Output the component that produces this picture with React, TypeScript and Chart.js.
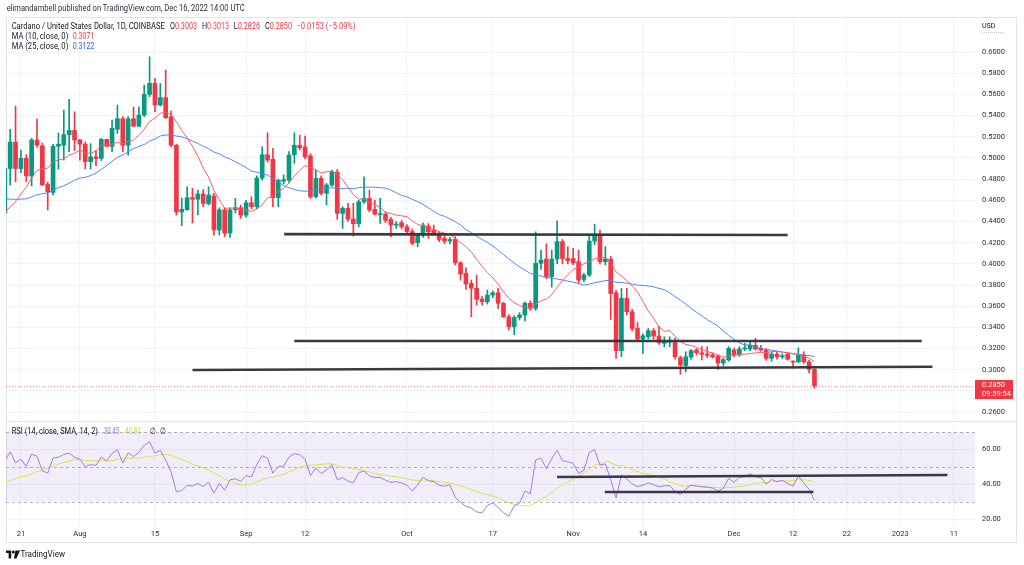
import React, { useEffect, useRef } from "react";
import { Chart, registerables } from "chart.js";

Chart.register(...registerables);

const FONT = 'Roboto, "Noto Sans", Arial, sans-serif';

// Daily candles, day index 0 = 2022-07-18 ... 151 = 2022-12-16
const opens = [
  0.448, 0.490, 0.515, 0.490, 0.4996, 0.483, 0.517, 0.5115, 0.475, 0.4675,
  0.511, 0.512, 0.522, 0.526, 0.517, 0.513, 0.4965, 0.501, 0.4996, 0.5175,
  0.511, 0.527, 0.537, 0.512, 0.537, 0.530, 0.5405, 0.560, 0.5705, 0.550,
  0.557, 0.539, 0.512, 0.449, 0.451, 0.4625, 0.461, 0.466, 0.457, 0.464,
  0.432, 0.451, 0.429, 0.451, 0.453, 0.446, 0.4577, 0.454, 0.481, 0.503,
  0.4987, 0.4625, 0.478, 0.479, 0.503, 0.512, 0.5105, 0.502, 0.4634, 0.4807,
  0.4666, 0.4744, 0.4865, 0.4477, 0.4524, 0.4423, 0.438, 0.4586, 0.4618, 0.4515,
  0.4465, 0.447, 0.442, 0.4365, 0.4388, 0.435, 0.4305, 0.420, 0.427, 0.4356,
  0.432, 0.429, 0.424, 0.4215, 0.423, 0.401, 0.391, 0.3815, 0.377, 0.3667,
  0.3643, 0.3705, 0.3727, 0.3627, 0.350, 0.3406, 0.3494, 0.3517, 0.3627, 0.358,
  0.4005, 0.4045, 0.388, 0.4045, 0.421, 0.405, 0.405, 0.402, 0.3853, 0.3894,
  0.4215, 0.427, 0.402, 0.4045, 0.3727, 0.318, 0.3674, 0.3548, 0.339, 0.329,
  0.3312, 0.3368, 0.3318, 0.325, 0.326, 0.3274, 0.3113, 0.304, 0.312, 0.3186,
  0.316, 0.3148, 0.3139, 0.3127, 0.3064, 0.3092, 0.3186, 0.314, 0.3196, 0.3196,
  0.323, 0.3202, 0.3186, 0.3108, 0.3148, 0.3123, 0.3145, 0.3078, 0.3075, 0.314,
  0.3075, 0.3003,
];
const highs = [
  0.492, 0.527, 0.549, 0.5075, 0.503, 0.5185, 0.5367, 0.514, 0.477, 0.5128,
  0.5235, 0.5452, 0.5553, 0.5436, 0.5175, 0.515, 0.5135, 0.507, 0.5185, 0.5178,
  0.5358, 0.550, 0.539, 0.539, 0.548, 0.548, 0.5688, 0.5956, 0.5752, 0.5704,
  0.583, 0.5443, 0.513, 0.4621, 0.4728, 0.4713, 0.4697, 0.4702, 0.4728, 0.4665,
  0.453, 0.453, 0.453, 0.4618, 0.4555, 0.460, 0.4634, 0.483, 0.5106, 0.5238,
  0.509, 0.480, 0.484, 0.5059, 0.5238, 0.5216, 0.5207, 0.504, 0.4886, 0.483,
  0.476, 0.4886, 0.489, 0.454, 0.4571, 0.4571, 0.460, 0.4822, 0.4697, 0.4602,
  0.4618, 0.449, 0.444, 0.440, 0.441, 0.437, 0.433, 0.429, 0.4388, 0.438,
  0.4366, 0.430, 0.426, 0.425, 0.4256, 0.402, 0.3962, 0.3847, 0.3894, 0.369,
  0.3752, 0.3745, 0.3768, 0.364, 0.352, 0.351, 0.354, 0.3642, 0.365, 0.4303,
  0.413, 0.419, 0.413, 0.4407, 0.423, 0.4162, 0.4146, 0.413, 0.391, 0.4272,
  0.4375, 0.432, 0.4162, 0.407, 0.375, 0.3768, 0.3768, 0.357, 0.3447, 0.334,
  0.339, 0.339, 0.3412, 0.3312, 0.3312, 0.330, 0.313, 0.317, 0.319, 0.320,
  0.3218, 0.3218, 0.316, 0.314, 0.311, 0.3218, 0.3205, 0.3218, 0.3249, 0.3265,
  0.3296, 0.323, 0.320, 0.317, 0.317, 0.315, 0.316, 0.3085, 0.3207, 0.317,
  0.309, 0.3013,
];
const lows = [
  0.445, 0.4744, 0.4775, 0.486, 0.4775, 0.4735, 0.510, 0.474, 0.4508, 0.465,
  0.4895, 0.498, 0.5059, 0.507, 0.498, 0.4895, 0.4895, 0.4925, 0.4975, 0.5106,
  0.506, 0.5232, 0.506, 0.5027, 0.5295, 0.5295, 0.539, 0.5578, 0.5436, 0.549,
  0.5373, 0.5106, 0.4461, 0.436, 0.4508, 0.4385, 0.4461, 0.4539, 0.4555, 0.427,
  0.4272, 0.4256, 0.425, 0.448, 0.443, 0.444, 0.452, 0.452, 0.479, 0.496,
  0.4539, 0.4539, 0.4755, 0.477, 0.4949, 0.5075, 0.499, 0.4618, 0.462, 0.465,
  0.4555, 0.473, 0.442, 0.4335, 0.440, 0.4262, 0.435, 0.457, 0.449, 0.446,
  0.4382, 0.439, 0.4256, 0.4335, 0.433, 0.429, 0.418, 0.4162, 0.425, 0.424,
  0.427, 0.421, 0.419, 0.419, 0.399, 0.3847, 0.3759, 0.350, 0.361, 0.361,
  0.362, 0.368, 0.358, 0.3494, 0.3375, 0.333, 0.347, 0.346, 0.356, 0.356,
  0.3947, 0.386, 0.378, 0.400, 0.400, 0.400, 0.399, 0.3815, 0.383, 0.388,
  0.418, 0.400, 0.399, 0.3475, 0.3107, 0.3124, 0.352, 0.337, 0.327, 0.3155,
  0.329, 0.329, 0.324, 0.3215, 0.3218, 0.310, 0.2957, 0.2978, 0.310, 0.314,
  0.3092, 0.3115, 0.311, 0.3004, 0.304, 0.308, 0.312, 0.3125, 0.318, 0.318,
  0.3185, 0.3175, 0.309, 0.308, 0.310, 0.3105, 0.309, 0.3015, 0.3065, 0.306,
  0.297, 0.2826,
];
const closes = [
  0.490, 0.515, 0.490, 0.4996, 0.483, 0.517, 0.512, 0.4745, 0.468, 0.511,
  0.513, 0.522, 0.526, 0.517, 0.513, 0.4965, 0.501, 0.4995, 0.5175, 0.511,
  0.528, 0.537, 0.512, 0.537, 0.530, 0.5405, 0.560, 0.5705, 0.550, 0.557,
  0.538, 0.512, 0.449, 0.4515, 0.4625, 0.461, 0.466, 0.457, 0.465, 0.432,
  0.451, 0.429, 0.451, 0.453, 0.446, 0.4577, 0.454, 0.481, 0.503, 0.498,
  0.4625, 0.479, 0.4795, 0.5027, 0.512, 0.5096, 0.501, 0.4634, 0.4807, 0.4666,
  0.4744, 0.487, 0.4477, 0.4524, 0.4423, 0.438, 0.4586, 0.4618, 0.4508, 0.447,
  0.447, 0.441, 0.4366, 0.4375, 0.435, 0.4305, 0.4195, 0.427, 0.4366, 0.4303,
  0.429, 0.4231, 0.4215, 0.423, 0.401, 0.3905, 0.381, 0.377, 0.3665, 0.3643,
  0.3705, 0.3727, 0.3627, 0.350, 0.3406, 0.3494, 0.3517, 0.3627, 0.358, 0.4005,
  0.4036, 0.388, 0.4045, 0.421, 0.405, 0.403, 0.401, 0.3847, 0.3894, 0.4215,
  0.427, 0.402, 0.4045, 0.372, 0.318, 0.3674, 0.3548, 0.339, 0.329, 0.3321,
  0.3368, 0.3318, 0.3255, 0.3274, 0.3277, 0.3123, 0.3044, 0.3123, 0.318, 0.3161,
  0.3146, 0.3136, 0.3123, 0.3064, 0.3095, 0.3202, 0.314, 0.3196, 0.3202, 0.3233,
  0.3196, 0.3186, 0.3108, 0.3148, 0.3123, 0.3133, 0.310, 0.3072, 0.3145, 0.3075,
  0.3003, 0.2850,
];
// closes before the first visible candle (2022-06-08 .. 2022-07-17), used to seed the indicators
const warmupCloses = [
  0.60, 0.61, 0.58, 0.55, 0.50, 0.45, 0.48, 0.51, 0.46, 0.48,
  0.46, 0.49, 0.49, 0.50, 0.47, 0.49, 0.50, 0.50, 0.49, 0.48,
  0.47, 0.46, 0.45, 0.45, 0.45, 0.45, 0.48, 0.46, 0.45, 0.46,
  0.48, 0.46, 0.44, 0.43, 0.42, 0.43, 0.44, 0.46, 0.46, 0.455,
];

const xTickDays = [3, 14, 28, 45, 56, 75, 91, 106, 119, 136, 147, 157, 167, 177];
const xTickLabels = ["21", "Aug", "15", "Sep", "12", "Oct", "17", "Nov", "14", "Dec", "12", "22", "2023", "11"];
const priceTicks = [0.26, 0.28, 0.30, 0.32, 0.34, 0.36, 0.38, 0.40, 0.42, 0.44, 0.46, 0.48, 0.50, 0.52, 0.54, 0.56, 0.58, 0.60];
const rsiTicks = [20, 40, 60];
const rsiLevels = [70, 50, 30];

// user-drawn horizontal lines (day index, price)
const priceLines = [
  { d1: 52.1, p1: 0.4281, d2: 146.0, p2: 0.4272 },
  { d1: 54.0, p1: 0.3271, d2: 171.0, p2: 0.3271 },
  { d1: 35.0, p1: 0.2997, d2: 173.0, p2: 0.3028 },
];
const rsiLines = [
  { d1: 103.0, v1: 44.2, d2: 175.8, v2: 45.3 },
  { d1: 111.9, v1: 35.6, d2: 150.8, v2: 35.6 },
];

const X_MIN = 0.22;
const X_MAX = 180.94;
const UP = "#089981";
const DOWN = "#f23645";

function smaOf(all: (number | null)[], n: number, k: number): number | null {
  if (k - n + 1 < 0) return null;
  let s = 0;
  for (let j = k - n + 1; j <= k; j++) {
    const v = all[j];
    if (v == null) return null;
    s += v;
  }
  return s / n;
}

function rsiOf(vals: number[], n: number): (number | null)[] {
  const out: (number | null)[] = vals.map(() => null);
  let ag = 0;
  let al = 0;
  for (let k = 1; k < vals.length; k++) {
    const ch = vals[k] - vals[k - 1];
    const g = Math.max(ch, 0);
    const l = Math.max(-ch, 0);
    if (k <= n) {
      ag += g / n;
      al += l / n;
      if (k === n) out[k] = al === 0 ? 100 : 100 - 100 / (1 + ag / al);
    } else {
      ag = (ag * (n - 1) + g) / n;
      al = (al * (n - 1) + l) / n;
      out[k] = al === 0 ? 100 : 100 - 100 / (1 + ag / al);
    }
  }
  return out;
}

// SVG text with a fixed rendered width
function Tx(props: { x: number; y: number; w: number; size?: number; color?: string; children: React.ReactNode }) {
  return (
    <text
      x={props.x}
      y={props.y}
      textLength={props.w}
      lengthAdjust="spacingAndGlyphs"
      fontSize={props.size ?? 9}
      fill={props.color ?? "#131722"}
      fontFamily={FONT}
    >
      {props.children}
    </text>
  );
}

export default function App() {
  const mainRef = useRef<HTMLCanvasElement>(null);
  const rsiRef = useRef<HTMLCanvasElement>(null);

  useEffect(() => {
    const W = warmupCloses.length;
    const all = [...warmupCloses, ...closes];
    const ma10 = closes.map((_, i) => ({ x: i, y: smaOf(all, 10, W + i) }));
    const ma25 = closes.map((_, i) => ({ x: i, y: smaOf(all, 25, W + i) }));
    const rsiAll = rsiOf(all, 14);
    const rsi = closes.map((_, i) => ({ x: i, y: rsiAll[W + i] }));
    const rsiMa = closes.map((_, i) => ({ x: i, y: smaOf(rsiAll, 14, W + i) }));
    const colors = closes.map((c, i) => (c >= opens[i] ? UP : DOWN));

    const tickFont = { family: FONT, size: 7.5 };

    const mainOverlay = {
      id: "mainOverlay",
      beforeDatasetsDraw(chart: any) {
        const { ctx, chartArea: a, scales } = chart;
        const py = Math.round(scales.y.getPixelForValue(closes[closes.length - 1])) + 0.5;
        ctx.save();
        ctx.strokeStyle = "rgba(242, 54, 69, 0.55)";
        ctx.lineWidth = 1;
        ctx.setLineDash([1, 2]);
        ctx.beginPath();
        ctx.moveTo(a.left, py);
        ctx.lineTo(a.right, py);
        ctx.stroke();
        ctx.restore();
      },
      afterDatasetsDraw(chart: any) {
        const { ctx, chartArea: a, scales } = chart;
        ctx.save();
        ctx.beginPath();
        ctx.rect(a.left, a.top, a.right - a.left, a.bottom - a.top);
        ctx.clip();
        ctx.strokeStyle = "#363a45";
        ctx.lineWidth = 2.6;
        ctx.lineCap = "butt";
        for (const t of priceLines) {
          ctx.beginPath();
          ctx.moveTo(scales.x.getPixelForValue(t.d1), scales.y.getPixelForValue(t.p1));
          ctx.lineTo(scales.x.getPixelForValue(t.d2), scales.y.getPixelForValue(t.p2));
          ctx.stroke();
        }
        ctx.restore();
      },
      afterDraw(chart: any) {
        const { ctx, chartArea: a, scales } = chart;
        const last = closes[closes.length - 1];
        const py = scales.y.getPixelForValue(last);
        ctx.save();
        ctx.fillStyle = DOWN;
        ctx.fillRect(a.right, py - 5.6, 38, 19);
        ctx.fillStyle = "#ffffff";
        ctx.font = `7.5px ${FONT}`;
        ctx.textBaseline = "middle";
        ctx.textAlign = "left";
        ctx.fillText(last.toFixed(4), a.right + 7, py - 0.6);
        ctx.fillText("09:59:54", a.right + 7, py + 8.6);
        ctx.restore();
      },
    };

    const rsiOverlay = {
      id: "rsiOverlay",
      beforeDatasetsDraw(chart: any) {
        const { ctx, chartArea: a, scales } = chart;
        const y70 = scales.y.getPixelForValue(70);
        const y30 = scales.y.getPixelForValue(30);
        ctx.save();
        ctx.fillStyle = "rgba(126, 87, 194, 0.1)";
        ctx.fillRect(a.left, y70, a.right - a.left, y30 - y70);
        ctx.strokeStyle = "rgba(120, 123, 134, 0.55)";
        ctx.lineWidth = 1;
        ctx.setLineDash([3, 3]);
        for (const v of rsiLevels) {
          const y = Math.round(scales.y.getPixelForValue(v)) + 0.5;
          ctx.beginPath();
          ctx.moveTo(a.left, y);
          ctx.lineTo(a.right, y);
          ctx.stroke();
        }
        ctx.restore();
      },
      afterDatasetsDraw(chart: any) {
        const { ctx, chartArea: a, scales } = chart;
        ctx.save();
        ctx.beginPath();
        ctx.rect(a.left, a.top, a.right - a.left, a.bottom - a.top);
        ctx.clip();
        ctx.strokeStyle = "#363a45";
        ctx.lineWidth = 2.6;
        for (const t of rsiLines) {
          ctx.beginPath();
          ctx.moveTo(scales.x.getPixelForValue(t.d1), scales.y.getPixelForValue(t.v1));
          ctx.lineTo(scales.x.getPixelForValue(t.d2), scales.y.getPixelForValue(t.v2));
          ctx.stroke();
        }
        ctx.restore();
      },
    };

    const xScaleBase = {
      type: "linear" as const,
      min: X_MIN,
      max: X_MAX,
      offset: false,
      grid: { color: "#f0f3fa", drawTicks: false, offset: false },
      border: { display: false },
      afterBuildTicks: (s: any) => {
        s.ticks = xTickDays.map((v) => ({ value: v }));
      },
    };

    const c1 = new Chart(mainRef.current as HTMLCanvasElement, {
      type: "bar",
      data: {
        datasets: [
          {
            type: "line",
            data: ma10 as any,
            borderColor: "#f5606b",
            borderWidth: 1,
            pointRadius: 0,
            order: 0,
          } as any,
          {
            type: "line",
            data: ma25 as any,
            borderColor: "#5287f6",
            borderWidth: 1,
            pointRadius: 0,
            order: 1,
          } as any,
          {
            data: closes.map((c, i) => ({ x: i, y: [opens[i], c] })) as any,
            backgroundColor: colors,
            barThickness: 4,
            minBarLength: 1,
            grouped: false,
            order: 2,
          } as any,
          {
            data: closes.map((_, i) => ({ x: i, y: [lows[i], highs[i]] })) as any,
            backgroundColor: colors,
            barThickness: 1,
            grouped: false,
            order: 3,
          } as any,
        ],
      },
      options: {
        responsive: false,
        animation: false,
        devicePixelRatio: 1,
        events: [],
        layout: { padding: { left: 6, right: 7, top: 0, bottom: 0 } },
        plugins: { legend: { display: false }, tooltip: { enabled: false } },
        scales: {
          x: {
            ...xScaleBase,
            ticks: { display: false },
            afterFit: (s: any) => {
              s.height = 0;
              s.paddingLeft = 0;
              s.paddingRight = 0;
            },
          },
          y: {
            type: "linear",
            position: "right",
            min: 0.2516,
            max: 0.6331,
            grid: { color: "#f0f3fa", drawTicks: false },
            border: { display: false },
            ticks: {
              padding: 7,
              color: "#2a2e39",
              font: tickFont,
              callback: (v: any) => Number(v).toFixed(4),
            },
            afterBuildTicks: (s: any) => {
              s.ticks = priceTicks.map((v) => ({ value: v }));
            },
            afterFit: (s: any) => {
              s.width = 42;
              s.paddingTop = 0;
              s.paddingBottom = 0;
            },
          },
        },
      } as any,
      plugins: [mainOverlay],
    });

    const c2 = new Chart(rsiRef.current as HTMLCanvasElement, {
      type: "line",
      data: {
        datasets: [
          {
            data: rsi as any,
            borderColor: "#a27be0",
            borderWidth: 1,
            pointRadius: 0,
            order: 0,
          },
          {
            data: rsiMa as any,
            borderColor: "#dde34a",
            borderWidth: 1,
            pointRadius: 0,
            order: 1,
          },
        ],
      },
      options: {
        responsive: false,
        animation: false,
        devicePixelRatio: 1,
        events: [],
        layout: { padding: { left: 6, right: 7, top: 0, bottom: 0 } },
        plugins: { legend: { display: false }, tooltip: { enabled: false } },
        scales: {
          x: {
            ...xScaleBase,
            ticks: {
              padding: 4,
              color: "#2a2e39",
              font: tickFont,
              autoSkip: false,
              maxRotation: 0,
              callback: (v: any) => {
                const k = xTickDays.indexOf(Number(v));
                return k >= 0 ? xTickLabels[k] : "";
              },
            },
            afterFit: (s: any) => {
              s.height = 17;
              s.paddingLeft = 0;
              s.paddingRight = 0;
            },
          },
          y: {
            type: "linear",
            position: "right",
            min: 16.17,
            max: 76.17,
            grid: { color: "#f0f3fa", drawTicks: false },
            border: { display: false },
            ticks: {
              padding: 7,
              color: "#2a2e39",
              font: tickFont,
              callback: (v: any) => Number(v).toFixed(2),
            },
            afterBuildTicks: (s: any) => {
              s.ticks = rsiTicks.map((v) => ({ value: v }));
            },
            afterFit: (s: any) => {
              s.width = 42;
              s.paddingTop = 0;
              s.paddingBottom = 0;
            },
          },
        },
      } as any,
      plugins: [rsiOverlay],
    });

    return () => {
      c1.destroy();
      c2.destroy();
    };
  }, []);

  return (
    <div
      style={{
        position: "fixed",
        left: 0,
        top: 0,
        width: 1024,
        height: 565,
        background: "#ffffff",
        fontFamily: FONT,
        overflow: "hidden",
      }}
    >
      <div
        style={{
          position: "absolute",
          left: 6,
          top: 17,
          width: 1011,
          height: 526,
          border: "1px solid #e0e3eb",
          boxSizing: "border-box",
        }}
      />
      <div style={{ position: "absolute", left: 6, top: 421, width: 1011, height: 1, background: "#e0e3eb" }} />
      <canvas ref={mainRef} width={1024} height={404} style={{ position: "absolute", left: 0, top: 17 }} />
      <canvas ref={rsiRef} width={1024} height={122} style={{ position: "absolute", left: 0, top: 421 }} />

      <svg
        width={1024}
        height={565}
        viewBox="0 0 1024 565"
        style={{ position: "absolute", left: 0, top: 0, pointerEvents: "none" }}
      >
        <Tx x={6.7} y={11.4} w={238} color="#2a2e39">elimandambell published on TradingView.com, Dec 16, 2022 14:00 UTC</Tx>

        <Tx x={11.7} y={29.2} w={153}>Cardano / United States Dollar, 1D, COINBASE</Tx>
        <Tx x={170} y={29.2} w={27} size={8.5}>O<tspan fill={DOWN}>0.3003</tspan></Tx>
        <Tx x={202} y={29.2} w={27} size={8.5}>H<tspan fill={DOWN}>0.3013</tspan></Tx>
        <Tx x={233.7} y={29.2} w={26.5} size={8.5}>L<tspan fill={DOWN}>0.2826</tspan></Tx>
        <Tx x={265} y={29.2} w={27} size={8.5}>C<tspan fill={DOWN}>0.2850</tspan></Tx>
        <Tx x={296.5} y={29.2} w={59} size={8.5} color={DOWN}>−0.0153 (−5.09%)</Tx>

        <Tx x={11.7} y={39.2} w={56.6}>MA (10, close, 0)</Tx>
        <Tx x={72.7} y={39.2} w={21.6} size={8.5} color={DOWN}>0.3071</Tx>
        <Tx x={11.7} y={49} w={56.6}>MA (25, close, 0)</Tx>
        <Tx x={72.7} y={49} w={21.6} size={8.5} color="#2962ff">0.3122</Tx>

        <Tx x={982} y={28} w={13.5} size={8}>USD</Tx>
        <line x1={982} y1={32.5} x2={1003} y2={32.5} stroke="#b2b5be" strokeWidth={0.8} strokeDasharray="1 1" />

        <Tx x={11.7} y={434} w={86.3}>RSI (14, close, SMA, 14, 2)</Tx>
        <Tx x={104} y={434} w={15} size={8.5} color="#9c6fe0">30.45</Tx>
        <Tx x={125} y={434} w={16} size={8.5} color="#c9d13a">40.91</Tx>
        <Tx x={150} y={434} w={6} size={8.5}>∅</Tx>
        <Tx x={160} y={434} w={6} size={8.5}>∅</Tx>

        <g transform="translate(6,550.5)">
          <path d="M0 0 H5.2 V8 H2.6 V2.6 H0 Z" fill="#131722" />
          <circle cx={7.3} cy={1.6} r={1.5} fill="#131722" />
          <path d="M9.4 0 H14 L10.4 8 H7.9 Z" fill="#131722" />
        </g>
        <Tx x={20.5} y={557.3} w={44.5} size={9}>TradingView</Tx>
      </svg>
    </div>
  );
}
